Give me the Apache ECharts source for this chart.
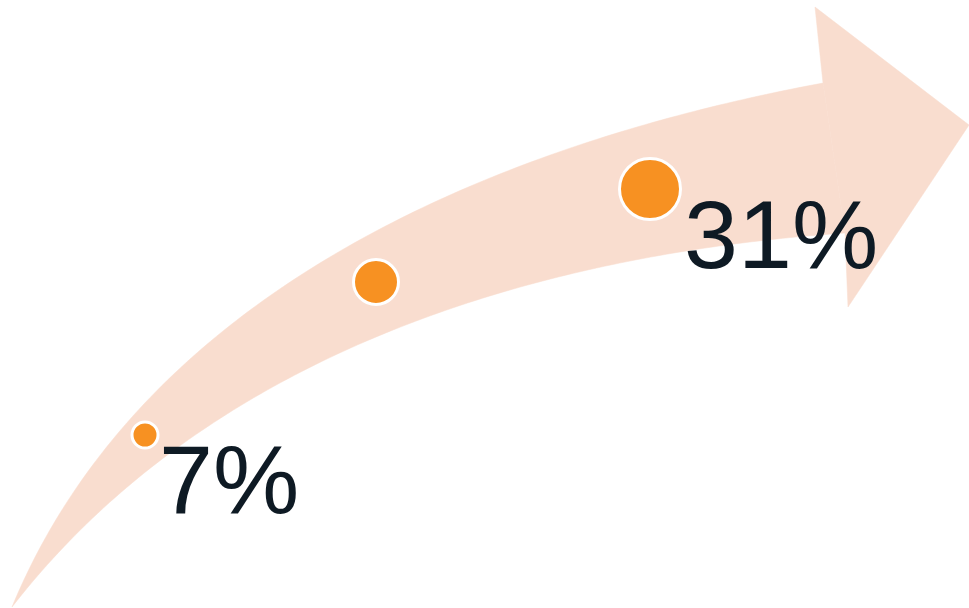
<!DOCTYPE html>
<html>
<head>
<meta charset="utf-8">
<script src="https://cdn.jsdelivr.net/npm/echarts@6/dist/echarts.min.js"></script>
<style>html,body{margin:0;padding:0;background:#fff;}#chart{width:969px;height:608px;}</style>
</head>
<body>
<div id="chart"></div>
<script>
// Arrow shaft outline (chart units), upper edge from tail to head
var shaftTop = [[12,607],[33,562],[67,500],[100,457],[148,400],[213,337],[280,290],[347,248],[440,199],[507,172],[573,147],[640,126],[707,107],[773,93],[823,83]];
// lower edge from tail to head
var shaftBottom = [[12,607],[50,565],[100,515],[150,468],[200,430],[245,401],[300,373],[350,348],[420,320],[450,309],[500,292],[600,267],[700,250],[773,241],[845,233]];
// arrow head outline
var headPts = [[823,83],[815,7],[969,125],[848,307],[845,233]];

// markers
var pointX = [145, 376, 650];
var pointY = [435, 282, 189];
var pointSize = [26, 45, 61];
var pointLabel = ['7%', '', '31%'];
var labelOffset = [[14, 51], [0, 0], [34, 52]];

var chart = echarts.init(document.getElementById('chart'), null, {renderer: 'canvas'});

// least-squares cubic Bezier through traced outline points (fixed end points), sampled for drawing
function bez(P, t) {
  var u = 1 - t;
  return [0, 1].map(function (k) {
    return u*u*u*P[0][k] + 3*t*u*u*P[1][k] + 3*t*t*u*P[2][k] + t*t*t*P[3][k];
  });
}
function fitCurve(pts, samples) {
  var n = pts.length, P0 = pts[0], P3 = pts[n - 1];
  var ts = [0], L = 0;
  for (var i = 1; i < n; i++) { L += Math.hypot(pts[i][0]-pts[i-1][0], pts[i][1]-pts[i-1][1]); ts.push(L); }
  ts = ts.map(function (v) { return v / L; });
  var P = null;
  for (var iter = 0; iter < 8; iter++) {
    var a11 = 0, a12 = 0, a22 = 0, r1 = [0, 0], r2 = [0, 0];
    for (var j = 0; j < n; j++) {
      var t = ts[j], u = 1 - t;
      var b0 = u*u*u, b1 = 3*t*u*u, b2 = 3*t*t*u, b3 = t*t*t;
      a11 += b1*b1; a12 += b1*b2; a22 += b2*b2;
      for (var k = 0; k < 2; k++) {
        var R = pts[j][k] - b0*P0[k] - b3*P3[k];
        r1[k] += b1*R; r2[k] += b2*R;
      }
    }
    var det = a11*a22 - a12*a12;
    var P1 = [0, 1].map(function (k) { return (a22*r1[k] - a12*r2[k]) / det; });
    var P2 = [0, 1].map(function (k) { return (a11*r2[k] - a12*r1[k]) / det; });
    P = [P0, P1, P2, P3];
    // re-parameterise: nearest sampled curve point
    var cache = [];
    for (var s = 0; s <= 400; s++) cache.push(bez(P, s / 400));
    ts = pts.map(function (p, idx) {
      if (idx === 0) return 0;
      if (idx === n - 1) return 1;
      var best = 0, bd = Infinity;
      for (var s2 = 0; s2 <= 400; s2++) {
        var d = Math.pow(cache[s2][0]-p[0], 2) + Math.pow(cache[s2][1]-p[1], 2);
        if (d < bd) { bd = d; best = s2; }
      }
      return best / 400;
    });
  }
  var out = [];
  for (var q = 0; q <= samples; q++) out.push(bez(P, q / samples));
  return out;
}

var scatterData = pointX.map(function (x, i) {
  return {
    value: [x, pointY[i]],
    symbolSize: pointSize[i],
    label: {
      show: pointLabel[i] !== '',
      formatter: pointLabel[i],
      offset: labelOffset[i]
    }
  };
});

var option = {
  animation: false,
  backgroundColor: '#ffffff',
  grid: {left: 0, right: 0, top: 0, bottom: 0},
  xAxis: {type: 'value', min: 0, max: 969, show: false},
  yAxis: {type: 'value', min: 0, max: 608, inverse: true, show: false},
  series: [
    {
      type: 'custom',
      silent: true,
      clip: false,
      z: 1,
      data: [[0, 0]],
      renderItem: function (params, api) {
        var top = fitCurve(shaftTop.map(function (p) { return api.coord(p); }), 120);
        var bottom = fitCurve(shaftBottom.map(function (p) { return api.coord(p); }), 120);
        var shaft = top.concat(bottom.slice(1).reverse());
        var head = headPts.map(function (p) { return api.coord(p); });
        return {
          type: 'group',
          children: [
            {type: 'polygon', shape: {points: shaft}, style: {fill: '#f9ddcf', stroke: '#f9ddcf', lineWidth: 0.5}},
            {type: 'polygon', shape: {points: head}, style: {fill: '#f9ddcf', stroke: '#f9ddcf', lineWidth: 0.5}}
          ]
        };
      }
    },
    {
      type: 'scatter',
      z: 3,
      silent: true,
      symbol: 'circle',
      data: scatterData,
      itemStyle: {color: '#f79122', borderColor: '#ffffff', borderWidth: 3, opacity: 1},
      label: {
        show: true,
        position: 'inside',
        align: 'left',
        verticalAlign: 'middle',
        fontSize: 97,
        fontFamily: '"Liberation Sans", Arial, sans-serif',
        color: '#0e1a24'
      }
    }
  ]
};
chart.setOption(option);
</script>
</body>
</html>
